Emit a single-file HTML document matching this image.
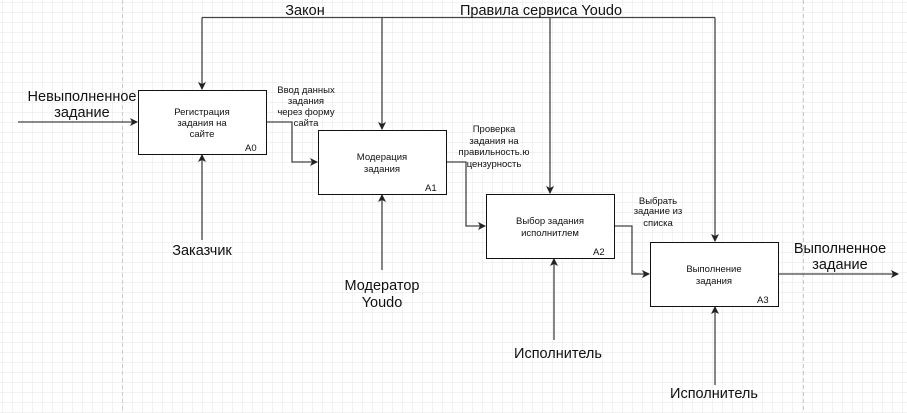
<!DOCTYPE html>
<html><head><meta charset="utf-8"><style>
body{margin:0;background:#fff}
svg{display:block}
text{font-family:"Liberation Sans",sans-serif;fill:#111}
.s{font-size:9.5px}
.b{font-size:14.5px}
</style></head><body>
<svg width="907" height="413" viewBox="0 0 907 413" xmlns="http://www.w3.org/2000/svg">
<defs>
<pattern id="g" width="10" height="10" patternUnits="userSpaceOnUse" x="2" y="2">
<path d="M10 0H0V10" fill="none" stroke="#e6e6e6" stroke-width="1"/>
</pattern>
<marker id="a" markerWidth="8" markerHeight="8" refX="7" refY="4" orient="auto" markerUnits="userSpaceOnUse">
<path d="M0 0L8 4L0 8L2 4Z" fill="#222"/>
</marker>
</defs>
<rect width="907" height="413" fill="url(#g)"/>
<line x1="122.5" y1="0" x2="122.5" y2="413" stroke="#ccc" stroke-dasharray="4 3"/>
<line x1="803.5" y1="0" x2="803.5" y2="413" stroke="#ccc" stroke-dasharray="4 3"/>
<g fill="none" stroke="#444" stroke-width="1.3">
<path d="M202 17.5H715"/>
<path d="M202 17.5V89" marker-end="url(#a)"/>
<path d="M382 17.5V129" marker-end="url(#a)"/>
<path d="M550 17.5V193" marker-end="url(#a)"/>
<path d="M715 17.5V241" marker-end="url(#a)"/>
<path d="M18 122H137" marker-end="url(#a)"/>
<path d="M266 122H292V162H317" marker-end="url(#a)"/>
<path d="M446 162H466V226H485" marker-end="url(#a)"/>
<path d="M614 226H632V274H649" marker-end="url(#a)"/>
<path d="M778 274H898" marker-end="url(#a)"/>
<path d="M202 240V155" marker-end="url(#a)"/>
<path d="M382 270V195" marker-end="url(#a)"/>
<path d="M554 340V259" marker-end="url(#a)"/>
<path d="M715 385V307" marker-end="url(#a)"/>
</g>
<g fill="#fff" stroke="#111" stroke-width="1">
<rect x="138.5" y="90.5" width="128" height="64"/>
<rect x="318.5" y="130.5" width="128" height="64"/>
<rect x="486.5" y="194.5" width="128" height="64"/>
<rect x="650.5" y="242.5" width="128" height="64"/>
</g>
<g class="s" text-anchor="middle">
<text x="202" y="115">Регистрация</text><text x="202" y="126">задания на</text><text x="202" y="137">сайте</text>
<text x="382" y="160">Модерация</text><text x="382" y="172">задания</text>
<text x="550" y="224">Выбор задания</text><text x="550" y="236">исполнитлем</text>
<text x="714" y="272">Выполнение</text><text x="714" y="284">задания</text>
<text x="306" y="93">Ввод данных</text><text x="306" y="104">задания</text><text x="306" y="115">через форму</text><text x="306" y="126">сайта</text>
<text x="494" y="132">Проверка</text><text x="494" y="144">задания на</text><text x="494" y="155">правильность.ю</text><text x="494" y="167">цензурность</text>
<text x="658" y="204">Выбрать</text><text x="658" y="214">задание из</text><text x="658" y="226">списка</text>
</g>
<g class="s">
<text x="245" y="151">A0</text><text x="425" y="191">A1</text><text x="593" y="255">A2</text><text x="757" y="303">A3</text>
</g>
<g class="b" text-anchor="middle">
<text x="305" y="15">Закон</text>
<text x="541" y="15">Правила сервиса Youdo</text>
<text x="82" y="101">Невыполненное</text><text x="82" y="117">задание</text>
<text x="840" y="253">Выполненное</text><text x="840" y="269">задание</text>
<text x="202" y="255">Заказчик</text>
<text x="382" y="290">Модератор</text><text x="382" y="307">Youdo</text>
<text x="558" y="358">Исполнитель</text>
<text x="714" y="398">Исполнитель</text>
</g>
</svg>
</body></html>
